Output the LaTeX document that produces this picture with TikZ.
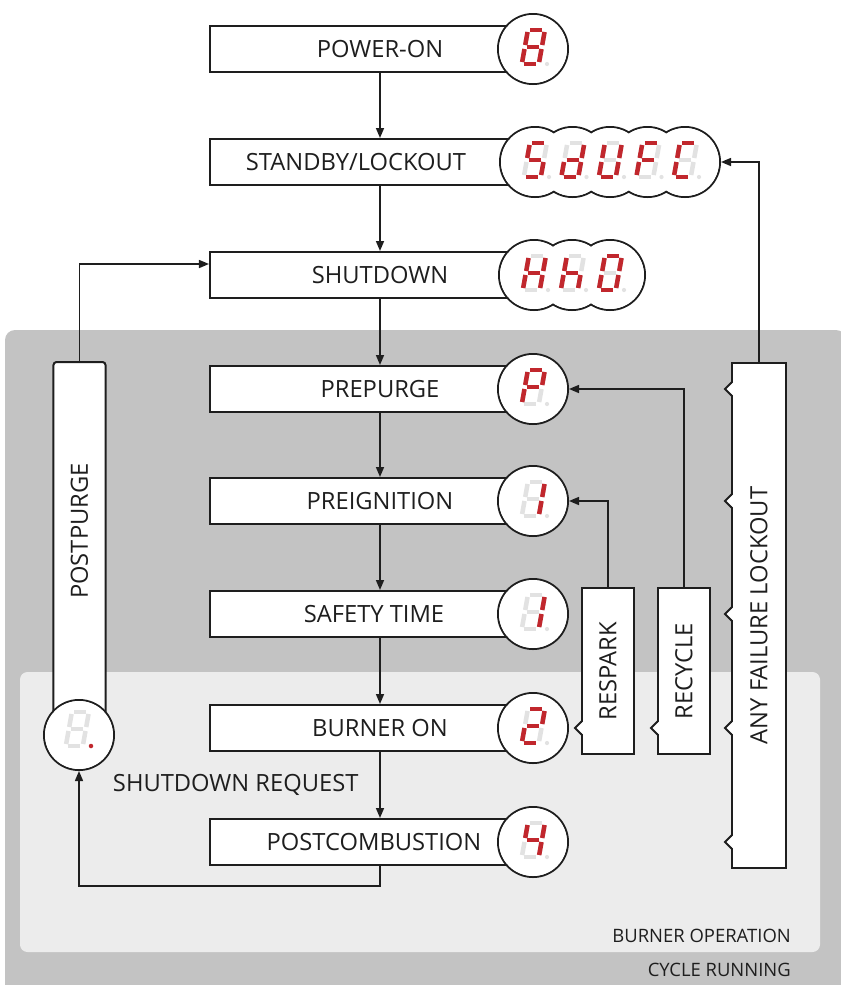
\documentclass[tikz,border=0pt]{standalone}
\usepackage{fontspec}
\setmainfont{Open Sans}
\usetikzlibrary{arrows.meta,positioning}

\definecolor{cyclebg}{HTML}{C3C3C3}
\definecolor{burnerbg}{HTML}{ECECEC}
\definecolor{segred}{HTML}{C1272D}
\definecolor{segdim}{HTML}{E2E2E2}
\definecolor{ink}{HTML}{1E1E1E}

% gray segments of one display digit, coordinates a1..g2 kept for the red ones
\newcommand{\segbase}{%
  \begin{scope}[xslant=0.18]
    \foreach \s/\p/\q in {a/{-6,-19}/{6,-19}, b/{8.5,-17}/{8.5,-4}, c/{8.5,0}/{8.5,13},
                          d/{-6,15}/{6,15}, e/{-8.5,0}/{-8.5,13}, f/{-8.5,-17}/{-8.5,-4},
                          g/{-6,-2}/{6,-2}}{
      \coordinate (\s1) at (\p);
      \coordinate (\s2) at (\q);
      \draw[segoff] (\s1) -- (\s2);
    }
  \end{scope}
  \fill[segdim] (14,15) circle (0.42mm);
}

\tikzset{
  >={Triangle[length=2mm,width=1.6mm]},
  statebox/.style={draw=ink, fill=white, line width=0.4mm, minimum width=68mm,
    minimum height=9.2mm, inner sep=0pt, text=ink, font=\fontsize{13.5}{16}\selectfont},
  sidebox/.style={draw=ink, fill=white, line width=0.4mm, minimum width=10.4mm, inner sep=0pt},
  sidetext/.style={rotate=90, text=ink, font=\fontsize{13.5}{16}\selectfont},
  disp/.style={circle, draw=ink, line width=0.4mm, minimum size=14mm, inner sep=0pt},
  dispfill/.style={circle, fill=white, minimum size=13.6mm, inner sep=0pt},
  flow/.style={draw=ink, line width=0.3mm, ->},
  segon/.style={draw=segred, line width=0.9mm},
  segoff/.style={draw=segdim, line width=0.9mm},
  pics/digit/.style={code={
    \segbase
    \foreach \s in {#1} \draw[segon] (\s1) -- (\s2);
  }},
  pics/pointdigit/.style={code={
    \segbase
    \fill[segred] (14,15) circle (0.45mm);
  }},
  pics/notch/.style={code={
    \fill[white] (1.8,-7) -- (-7,0) -- (1.8,7) -- cycle;
    \draw[draw=ink, line width=0.4mm] (0,-7) -- (-7,0) -- (0,7);
  }},
}

\begin{document}
\begin{tikzpicture}[x=0.2mm, y=-0.2mm]
    \useasboundingbox (0,0) rectangle (841,985);

    % Regions
    \fill[cyclebg, rounded corners=2mm] (5,330) rectangle (846,1000);
    \fill[burnerbg, rounded corners=1.5mm] (20,672) rectangle (820,952);
    \node[anchor=east, text=ink, font=\fontsize{10.5}{12}\selectfont] (burnop) at (797,936) {BURNER OPERATION};
    \node[anchor=east, text=ink, font=\fontsize{10.5}{12}\selectfont] (cycrun) at (797,970) {CYCLE RUNNING};

    % States
    \node[statebox] (pwr)   at (380,49)  {POWER-ON};
    \node[statebox] (stby)  at (380,162) {STANDBY/LOCKOUT\hspace*{9.6mm}};
    \node[statebox] (sdn)   at (380,275) {SHUTDOWN};
    \node[statebox] (ppg)   at (380,389) {PREPURGE};
    \node[statebox] (pig)   at (380,501) {PREIGNITION};
    \node[statebox] (sft)   at (380,614) {SAFETY TIME\hspace*{2.4mm}};
    \node[statebox] (brn)   at (380,728) {BURNER ON};
    \node[statebox] (postc) at (380,842) {POSTCOMBUSTION\hspace*{2.4mm}};

    % Displays
    \node[disp] (d-pwr) at (533,49) {};
    \foreach \i in {0,...,4} \node[disp] (d-sb\i) at (535+37.5*\i,162) {};
    \foreach \i in {0,...,2} \node[disp] (d-sd\i) at (534+38*\i,275) {};
    \node[disp] (d-ppg) at (533,389) {};
    \node[disp] (d-pig) at (533,501) {};
    \node[disp] (d-sft) at (533,614) {};
    \node[disp] (d-brn) at (533,728) {};
    \node[disp] (d-pc)  at (533,842) {};

    \node[dispfill] (f-pwr) at (d-pwr) {};
    \foreach \i in {0,...,4} \node[dispfill] (f-sb\i) at (d-sb\i) {};
    \foreach \i in {0,...,2} \node[dispfill] (f-sd\i) at (d-sd\i) {};
    \node[dispfill] (f-ppg) at (d-ppg) {};
    \node[dispfill] (f-pig) at (d-pig) {};
    \node[dispfill] (f-sft) at (d-sft) {};
    \node[dispfill] (f-brn) at (d-brn) {};
    \node[dispfill] (f-pc)  at (d-pc)  {};

    \pic at (d-pwr) {digit={a,b,c,d,e,f,g}};
    \pic at (d-sb0) {digit={a,f,g,c,d}};
    \pic at (d-sb1) {digit={b,c,d,e,g}};
    \pic at (d-sb2) {digit={b,c,d,e,f}};
    \pic at (d-sb3) {digit={a,e,f,g}};
    \pic at (d-sb4) {digit={a,d,e,f}};
    \pic at (d-sd0) {digit={b,c,e,f,g}};
    \pic at (d-sd1) {digit={c,e,f,g}};
    \pic at (d-sd2) {digit={a,b,c,d,e,f}};
    \pic at (d-ppg) {digit={a,b,e,f,g}};
    \pic at (d-pig) {digit={b,c}};
    \pic at (d-sft) {digit={b,c}};
    \pic at (d-brn) {digit={a,b,g,e,d}};
    \pic at (d-pc)  {digit={f,g,b,c}};

    % Postpurge
    \node[sidebox, minimum height=71.6mm, rounded corners=0.6mm] (ppbox) at (79.5,541) {};
    \node[sidetext] (ppbox-t) at (79.5,531) {POSTPURGE};
    \node[disp] (d-pp) at (79,735) {};
    \node[dispfill] (f-pp) at (d-pp) {};
    \pic at (77,731) {pointdigit};

    % Side paths
    \node[sidebox, minimum height=33.2mm] (resp) at (608,671) {};
    \node[sidetext] (resp-t) at (resp) {RESPARK};
    \node[sidebox, minimum height=33.2mm] (recy) at (684,671) {};
    \node[sidetext] (recy-t) at (recy) {RECYCLE};
    \node[sidebox, minimum height=101mm, minimum width=10.8mm] (fail) at (759,615.5) {};
    \node[sidetext] (fail-t) at (fail) {ANY FAILURE LOCKOUT};

    \pic at ([xshift=0.2mm]resp.west |- d-brn.center) {notch};
    \pic at ([xshift=0.2mm]recy.west |- d-brn.center) {notch};
    \foreach \st in {ppg,pig,sft,brn,pc}
        \pic at ([xshift=0.2mm]fail.west |- d-\st.center) {notch};

    % Flow
    \draw[flow] (pwr) -- (stby);
    \draw[flow] (stby) -- (sdn);
    \draw[flow] (sdn) -- (ppg);
    \draw[flow] (ppg) -- (pig);
    \draw[flow] (pig) -- (sft);
    \draw[flow] (sft) -- (brn);
    \draw[flow] (brn) -- node[left=3mm, text=ink, font=\fontsize{13.5}{16}\selectfont] (sdreq) {SHUTDOWN REQUEST} (postc);
    \draw[flow] (postc.south) -- ++(0,20) -| (d-pp.south);
    \draw[flow] (ppbox.north) |- ([yshift=2.2mm]sdn.west);
    \draw[flow] (resp.north) |- (d-pig.east);
    \draw[flow] (recy.north) |- (d-ppg.east);
    \draw[flow] (fail.north) |- (d-sb4.east);

\end{tikzpicture}
\end{document}
